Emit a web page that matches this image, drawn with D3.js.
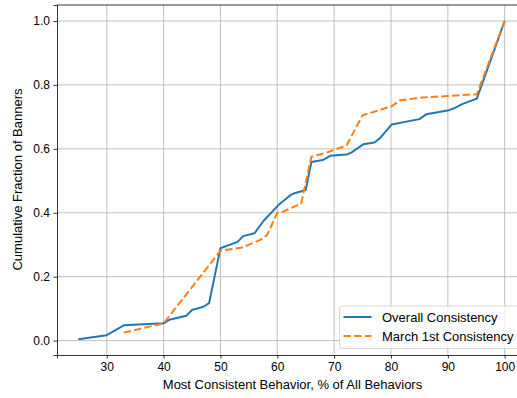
<!DOCTYPE html>
<html>
<head>
<meta charset="utf-8">
<script src="https://cdn.jsdelivr.net/npm/d3@7"></script>
<style>
body{margin:0;background:#fff;overflow:hidden}
svg{font-family:"Liberation Sans",Arial,sans-serif;display:block}
</style>
</head>
<body>
<div id="chart"></div>
<script>
// valores
var overallX = [25,30,33,40,41,44,45,47,48,50,53,54,56,57.6,60.2,62.3,63.2,65,66,68,69.3,72.2,73.1,75.1,77.1,78.1,80.1,85,86.2,90.2,91,92.5,95.1,100]
var overallY = [0.004,0.017,0.048,0.054,0.065,0.078,0.096,0.106,0.117,0.289,0.309,0.327,0.336,0.375,0.424,0.455,0.462,0.471,0.559,0.565,0.578,0.582,0.589,0.614,0.620,0.634,0.676,0.693,0.708,0.721,0.726,0.740,0.757,1.0]

var marchX = [33,40,50,53.8,57,58.2,60,61,64.2,66,69,72.2,75,80.1,81.6,85.7,89.8,95.1,100]
var marchY = [0.025,0.054,0.281,0.291,0.315,0.330,0.400,0.403,0.429,0.575,0.590,0.611,0.705,0.733,0.752,0.761,0.765,0.771,1.0]

var xTicks = [30,40,50,60,70,80,90,100]
var yTicks = [0.0,0.2,0.4,0.6,0.8,1.0]
var seriesNames = ["Overall Consistency","March 1st Consistency"]

var W=517, H=398
var L=57, T=5, R=526, B=355

var svg = d3.select("#chart").append("svg")
	.attr("width",W).attr("height",H)

var x = d3.scaleLinear().domain([21.25,103.75]).range([L,R])
var y = d3.scaleLinear().domain([-0.045,1.05]).range([B,T])

// grid
svg.append("g").selectAll("line").data(xTicks).enter().append("line")
	.attr("x1",d=>x(d)).attr("x2",d=>x(d)).attr("y1",T).attr("y2",B)
	.attr("stroke","#b0b0b0").attr("stroke-width",0.8)
svg.append("g").selectAll("line").data(yTicks).enter().append("line")
	.attr("y1",d=>y(d)).attr("y2",d=>y(d)).attr("x1",L).attr("x2",R)
	.attr("stroke","#b0b0b0").attr("stroke-width",0.8)

var line = d3.line().x(d=>x(d[0])).y(d=>y(d[1]))

svg.append("path").datum(overallX.map((v,i)=>[v,overallY[i]]))
	.attr("d",line).attr("fill","none").attr("stroke","#1f77b4")
	.attr("stroke-width",2).attr("stroke-linejoin","round")

svg.append("path").datum(marchX.map((v,i)=>[v,marchY[i]]))
	.attr("d",line).attr("fill","none").attr("stroke","#ff7f0e")
	.attr("stroke-width",2).attr("stroke-dasharray","7.4,3.2")

// axes
var xAxis = svg.append("g").attr("transform","translate(0,"+B+")")
	.call(d3.axisBottom(x).tickValues(xTicks).tickSize(3.5).tickPadding(3.5).tickFormat(d3.format("d")))
var yAxis = svg.append("g").attr("transform","translate("+L+",0)")
	.call(d3.axisLeft(y).tickValues(yTicks).tickSize(3.5).tickPadding(3.5).tickFormat(d3.format(".1f")))
;[xAxis,yAxis].forEach(function(a){
	a.selectAll("text").attr("font-size",12).attr("fill","#000").attr("font-family","Liberation Sans, Arial, sans-serif")
	a.selectAll("line").attr("stroke","#000").attr("stroke-width",0.8)
	a.select(".domain").attr("stroke","#000").attr("stroke-width",0.8)
})
// top spine
svg.append("line").attr("x1",L).attr("x2",R).attr("y1",T).attr("y2",T).attr("stroke","#000").attr("stroke-width",0.8)

svg.append("text").attr("x",292.5).attr("y",389)
	.attr("text-anchor","middle").attr("font-size",13).text("Most Consistent Behavior, % of All Behaviors")
svg.append("text").attr("transform","translate(22,179.5) rotate(-90)")
	.attr("text-anchor","middle").attr("font-size",13).text("Cumulative Fraction of Banners")

// legend
var lg = svg.append("g")
lg.append("rect").attr("x",339.5).attr("y",306).attr("width",183).attr("height",42.5)
	.attr("rx",3).attr("fill","#fff").attr("fill-opacity",0.8).attr("stroke","#cccccc").attr("stroke-width",0.8)
var colors=["#1f77b4","#ff7f0e"], dashes=[null,"7.4,3.2"]
seriesNames.forEach(function(n,i){
	var yy=317+i*19
	lg.append("line").attr("x1",343.5).attr("x2",371.5).attr("y1",yy).attr("y2",yy)
		.attr("stroke",colors[i]).attr("stroke-width",2).attr("stroke-dasharray",dashes[i])
	lg.append("text").attr("x",382).attr("y",yy+4.5).attr("font-size",13).text(n)
})
</script>
</body>
</html>
